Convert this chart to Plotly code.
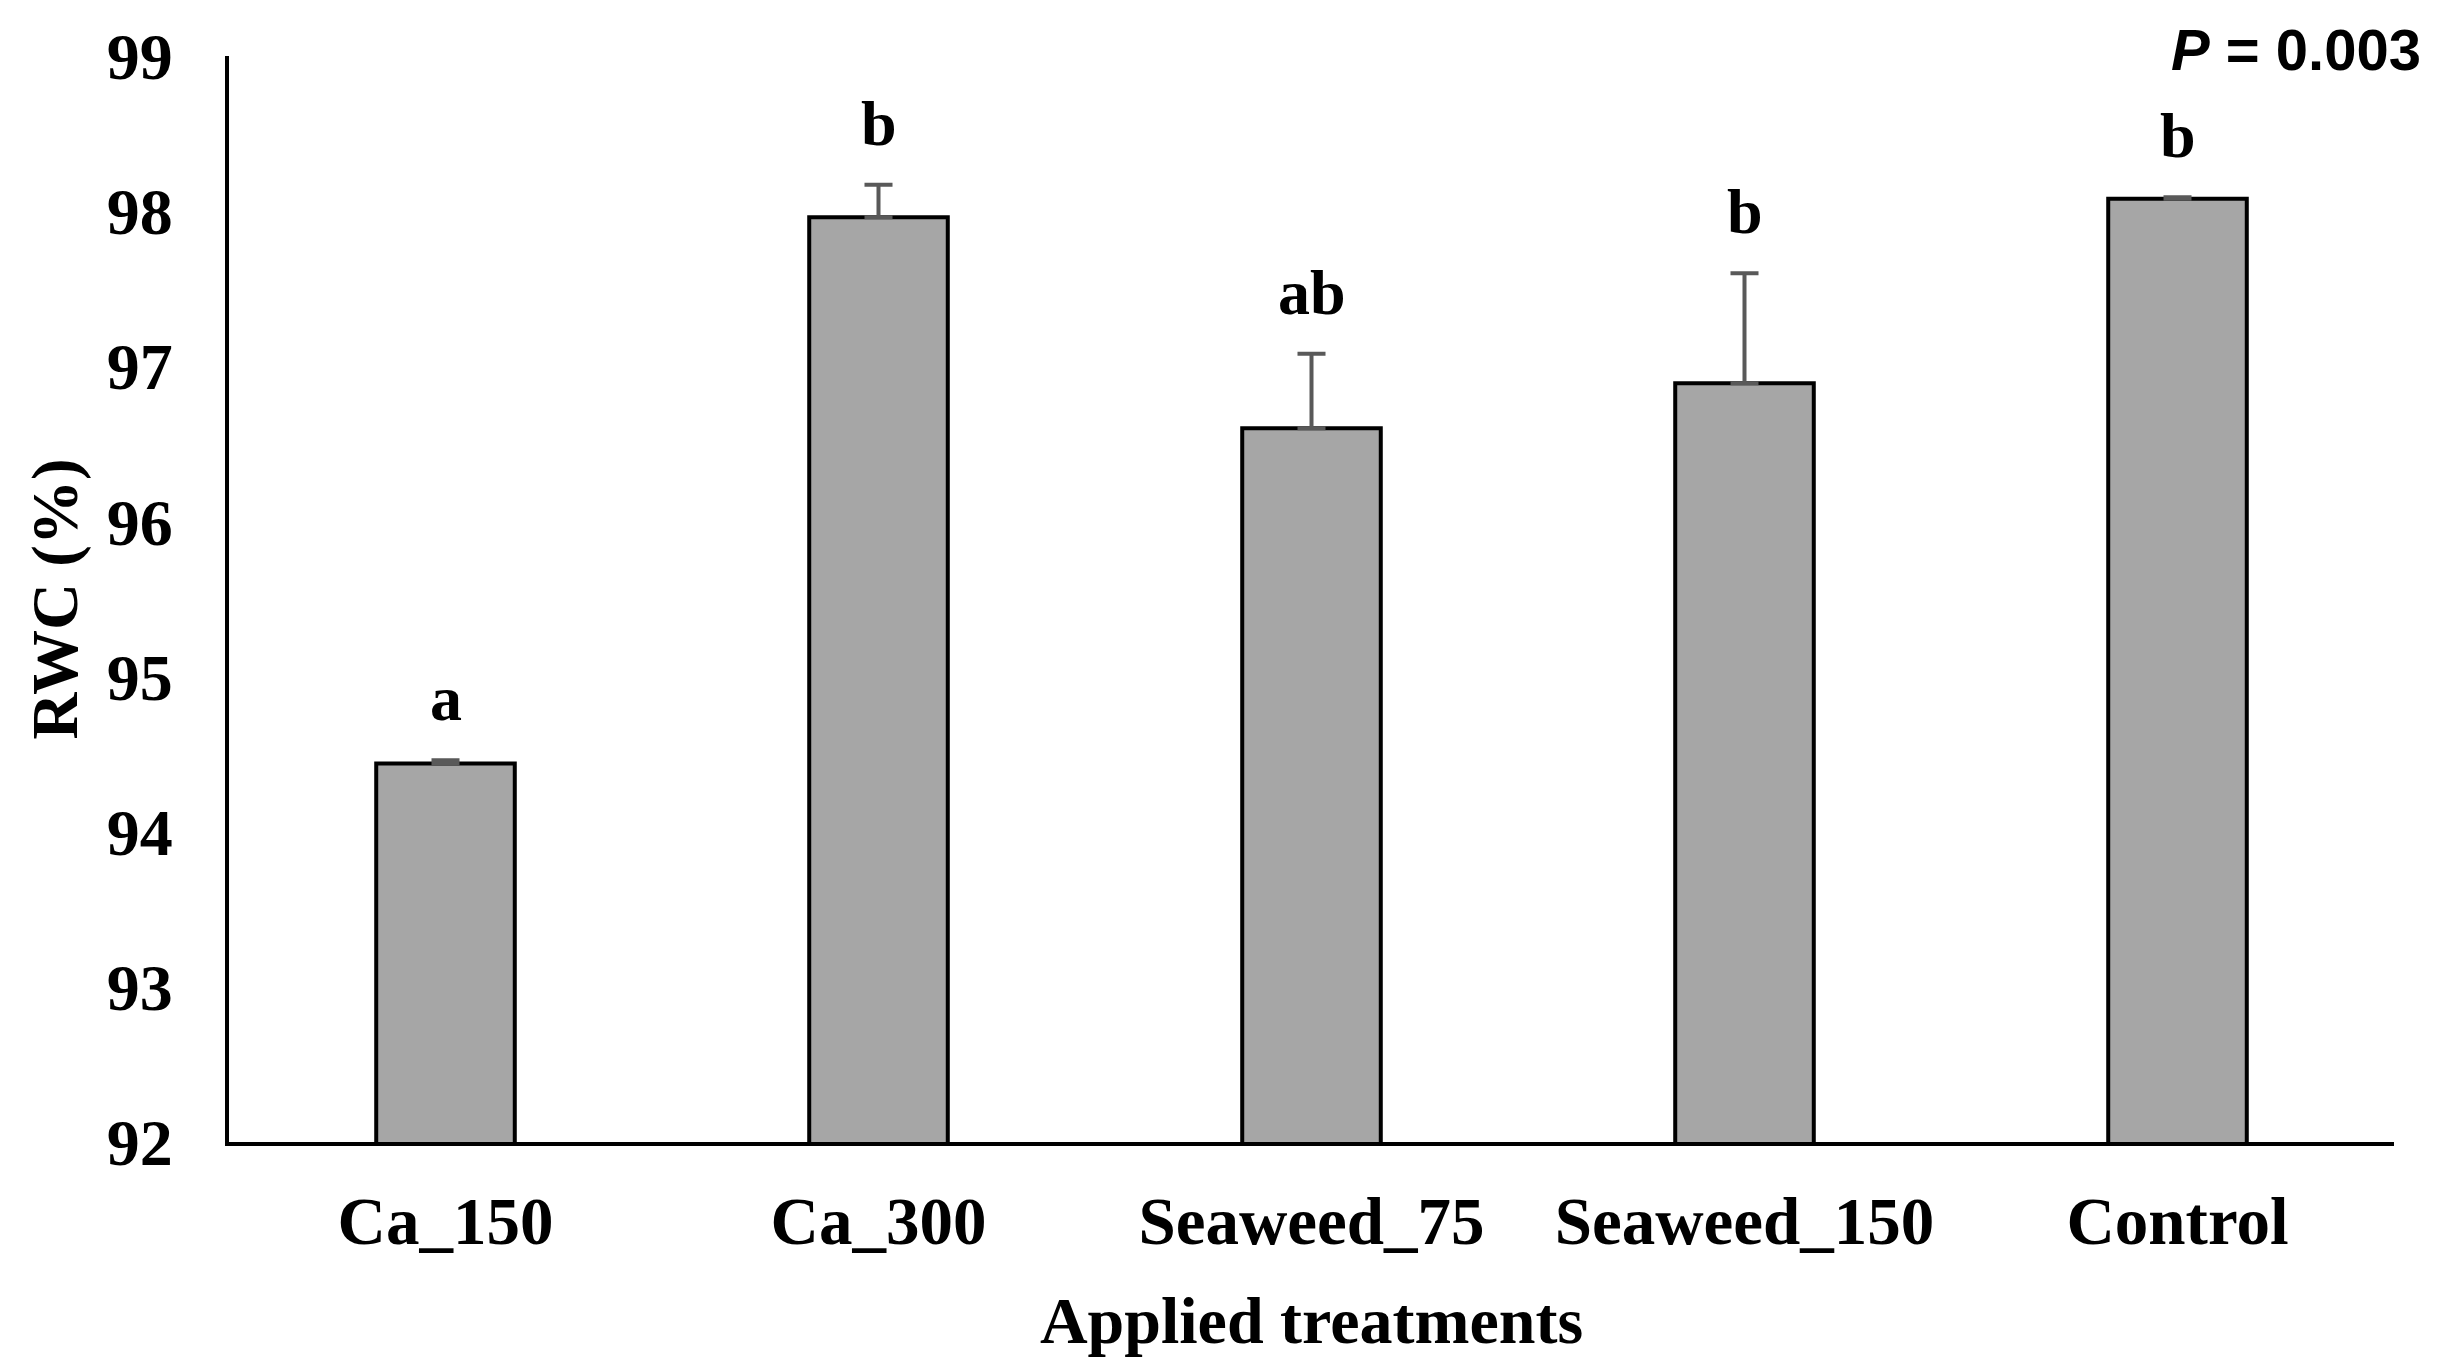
import plotly.graph_objects as go

treatments = ["Ca_150", "Ca_300", "Seaweed_75", "Seaweed_150", "Control"]
rwc_mean = [94.44, 97.96, 96.60, 96.89, 98.08]
rwc_err = [0.02, 0.21, 0.48, 0.71, 0.01]
letters = ["a", "b", "ab", "b", "b"]
y_ticks = [92, 93, 94, 95, 96, 97, 98, 99]
p_label = "P = 0.003"

SERIF = "Liberation Serif"

fig = go.Figure()
fig.add_trace(go.Bar(
    x=treatments, y=rwc_mean, width=0.32,
    marker=dict(color="#A6A6A6", line=dict(color="black", width=4)),
    error_y=dict(type="data", array=rwc_err, arrayminus=[0]*len(rwc_err), symmetric=False,
                 color="#595959", thickness=4, width=14),
    showlegend=False, hoverinfo="skip",
))

for t, m, e, l in zip(treatments, rwc_mean, rwc_err, letters):
    fig.add_annotation(x=t, y=m + e, text=l, showarrow=False,
                       yanchor="bottom", yshift=24,
                       font=dict(family=SERIF, size=64, color="black", weight="bold"))

fig.add_annotation(xref="paper", yref="paper", x=1, y=1, xanchor="right", yanchor="middle",
                   xshift=29, yshift=7, showarrow=False,
                   text="<i>P</i> = 0.003",
                   font=dict(family="Liberation Sans", size=58, color="black", weight="bold"))

fig.update_layout(
    width=2441, height=1359,
    margin=dict(l=221, r=55, t=48, b=225),
    paper_bgcolor="white", plot_bgcolor="white",
    bargap=0.68,
    xaxis=dict(showline=True, linewidth=4, linecolor="black", ticks="", showgrid=False,
               tickfont=dict(family=SERIF, size=67, color="black", weight="bold"),
               ticklabelstandoff=18,
               title=dict(text="Applied treatments", standoff=40,
                          font=dict(family=SERIF, size=66, color="black", weight="bold"))),
    yaxis=dict(range=[92, 99], tickvals=y_ticks, showline=True, linewidth=4, linecolor="black",
               ticks="", showgrid=False, zeroline=False,
               tickfont=dict(family=SERIF, size=66, color="black", weight="bold"),
               ticklabelstandoff=39,
               title=dict(text="RWC (%)", standoff=9,
                          font=dict(family=SERIF, size=65, color="black", weight="bold"))),
)

fig.write_html("out.html")
